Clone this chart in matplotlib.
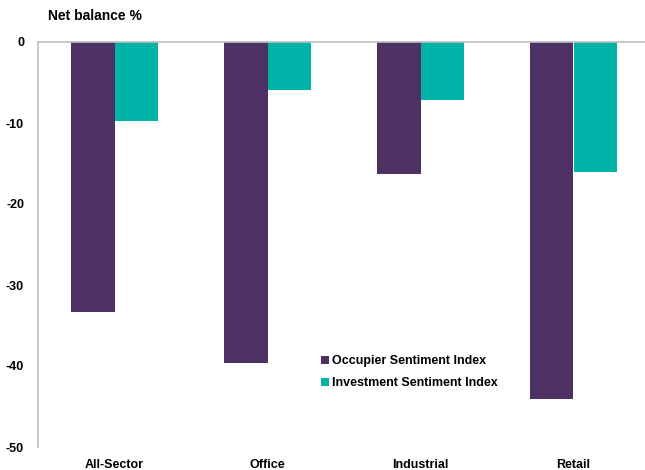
import matplotlib.pyplot as plt
import numpy as np

plt.rcParams['font.family'] = ['Liberation Sans', 'DejaVu Sans']

# sectors and net balance values (%)
sectors = ['All-Sector', 'Office', 'Industrial', 'Retail']
occupier = [-33.3, -39.6, -16.3, -44.1]
investment = [-9.7, -5.9, -7.1, -16.0]
yticks = [0, -10, -20, -30, -40, -50]

purple = '#4D3064'
teal = '#00B3A9'
grey = '#BFBFBF'

fig = plt.figure(figsize=(6.45, 4.70), dpi=100)
ax = fig.add_axes([38 / 645, 23 / 470, 607 / 645, 405 / 470])

x = np.arange(len(sectors))
w = 0.287
ax.bar(x - w / 2, occupier, w, color=purple, label='Occupier Sentiment Index')
ax.bar(x + w / 2, investment, w, color=teal, label='Investment Sentiment Index')

ax.set_ylim(-50, 0)
ax.set_xlim(-0.5, -0.5 + 607 / 153)
ax.set_yticks(yticks)
ax.set_yticklabels([str(t) for t in yticks], fontsize=9, fontweight='bold')
ax.set_xticks(x)
ax.set_xticklabels(sectors, fontsize=9, fontweight='bold')
ax.tick_params(axis='both', length=0)
ax.tick_params(axis='y', pad=10)
ax.tick_params(axis='x', pad=9)

for s in ['right', 'bottom']:
    ax.spines[s].set_visible(False)
ax.spines['left'].set_color(grey)
ax.spines['top'].set_color(grey)
ax.spines['left'].set_linewidth(1.2)
ax.spines['top'].set_linewidth(1.2)

fig.text(48 / 645, 1 - 16 / 470, 'Net balance %', fontsize=10, fontweight='bold',
         va='center', ha='left')

leg = ax.legend(loc='upper left', bbox_to_anchor=((316 - 38) / 607, (447 - 350) / 405),
                frameon=False, handlelength=0.6, handleheight=0.6, handletextpad=0.3,
                labelspacing=0.8, borderaxespad=0,
                prop={'size': 9, 'weight': 'bold'})

fig.savefig('out.png', dpi=100)
